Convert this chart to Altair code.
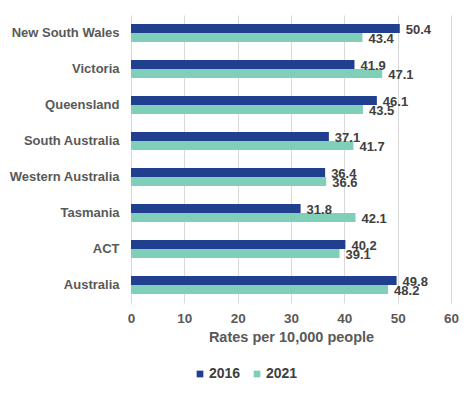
import altair as alt
import pandas as pd

regions = ["New South Wales", "Victoria", "Queensland", "South Australia",
           "Western Australia", "Tasmania", "ACT", "Australia"]
years = ["2016", "2021"]
rates_2016 = [50.4, 41.9, 46.1, 37.1, 36.4, 31.8, 40.2, 49.8]
rates_2021 = [43.4, 47.1, 43.5, 41.7, 36.6, 42.1, 39.1, 48.2]
colors = ["#203F8F", "#80CFB9"]

rows = []
for r, a, b in zip(regions, rates_2016, rates_2021):
    rows.append({"region": r, "year": "2016", "rate": a})
    rows.append({"region": r, "year": "2021", "rate": b})
df = pd.DataFrame(rows)

FONT = "Liberation Sans"

y = alt.Y("region:N", sort=regions, title=None,
          scale=alt.Scale(paddingInner=0.5, paddingOuter=0.25),
          axis=alt.Axis(labelFont=FONT, labelFontWeight="bold", labelFontSize=13,
                        labelColor="#595959", labelPadding=12, ticks=False,
                        domain=False, grid=False))
x = alt.X("rate:Q", title="Rates per 10,000 people",
          scale=alt.Scale(domain=[0, 60]),
          axis=alt.Axis(values=[0, 10, 20, 30, 40, 50, 60], labelFont=FONT,
                        labelFontWeight="bold", labelFontSize=13.5, labelColor="#595959",
                        labelPadding=8, labelFlush=False, ticks=False, domain=False,
                        grid=True, gridColor="#D9D9D9", gridWidth=1,
                        titleFont=FONT, titleFontWeight="bold", titleFontSize=14.5,
                        titleColor="#595959", titlePadding=6))
yoff = alt.YOffset("year:N", sort=years)

bars = alt.Chart(df).mark_bar().encode(
    x=x, y=y, yOffset=yoff,
    color=alt.Color("year:N", sort=years,
                    scale=alt.Scale(domain=years, range=colors),
                    legend=alt.Legend(title=None, orient="none", direction="horizontal",
                                      legendX=62, legendY=352, symbolType="square",
                                      symbolSize=45, symbolStrokeWidth=0,
                                      labelFont=FONT, labelFontWeight="bold",
                                      labelFontSize=14, labelColor="#404040",
                                      columnPadding=9, labelOffset=2)),
)

labels = alt.Chart(df).mark_text(align="left", baseline="middle", dx=6, dy=1,
                                 font=FONT, fontWeight="bold", fontSize=13,
                                 color="#404040").encode(
    x="rate:Q", y=alt.Y("region:N", sort=regions), yOffset=yoff,
    text=alt.Text("rate:Q", format=".1f"),
)

chart = (bars + labels).properties(
    width=320, height=288,
    padding={"top": 7, "left": 0, "right": 5, "bottom": 5},
).configure_view(stroke=None)

chart.save("out.html", embed_options={"renderer": "svg", "actions": False})
